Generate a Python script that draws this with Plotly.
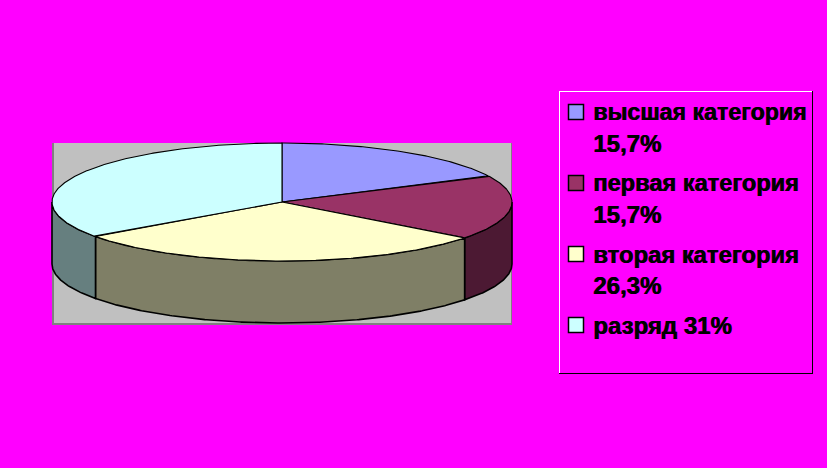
import numpy as np
import plotly.graph_objects as go

categories = ["высшая категория", "первая категория", "вторая категория", "разряд"]
values = [15.7, 15.7, 26.3, 31.0]
value_labels = ["15,7%", "15,7%", "26,3%", "31%"]
top_colors = ["#9999FF", "#993366", "#FFFFCC", "#CCFFFF"]
side_colors = ["#4C4C7F", "#4C1933", "#7F7F66", "#667F7F"]
category_font_sizes = [23.2, 23.6, 23.8, 24]

W, H = 827, 468
CX, CY, RX, RY, DEPTH = 282, 202, 230, 59, 62


def pt(deg, drop=0.0):
    a = np.radians(deg)
    return CX + RX * np.sin(a), CY - RY * np.cos(a) + drop


def arc(a0, a1, drop=0.0):
    n = max(2, int(abs(a1 - a0) * 2) + 1)
    return pt(np.linspace(a0, a1, n), drop)


fig = go.Figure()

shares = np.array(values) / np.sum(values) * 360.0
edges = np.concatenate([[0.0], np.cumsum(shares)])

# side walls (front half of the disc only)
for i, cat in enumerate(categories):
    a0, a1 = max(edges[i], 90.0), min(edges[i + 1], 270.0)
    if a1 <= a0:
        continue
    xt, yt = arc(a0, a1)
    xb, yb = arc(a1, a0, DEPTH)
    fig.add_trace(go.Scatter(
        x=np.r_[xt, xb, xt[0]], y=np.r_[yt, yb, yt[0]],
        mode="lines", fill="toself", fillcolor=side_colors[i],
        line=dict(color="black", width=1.6), name=cat + " (side)",
        hoverinfo="skip", showlegend=False))

# top faces
for i, cat in enumerate(categories):
    xt, yt = arc(edges[i], edges[i + 1])
    fig.add_trace(go.Scatter(
        x=np.r_[CX, xt, CX], y=np.r_[CY, yt, CY],
        mode="lines", fill="toself", fillcolor=top_colors[i],
        line=dict(color="black", width=1.1), name=cat,
        hoverinfo="name", showlegend=False))

# legend swatches
LEG_X = 576
sw_y = [112, 183, 254, 325]
fig.add_trace(go.Scatter(
    x=[LEG_X] * 4, y=sw_y, mode="markers",
    marker=dict(symbol="square", size=15, color=top_colors,
                line=dict(color="black", width=1.5)),
    hoverinfo="skip", showlegend=False))


def legend_font(size):
    return dict(family="Liberation Sans", size=size, color="black", shadow="0.7px 0 0 black")


TX = 593
annotations = []
for i, cat in enumerate(categories):
    if i < 3:
        lines = [(cat, sw_y[i], category_font_sizes[i]), (value_labels[i], sw_y[i] + 31, 24)]
    else:
        lines = [(cat + " " + value_labels[i], sw_y[i], category_font_sizes[i])]
    for txt, y, size in lines:
        annotations.append(dict(
            x=TX, y=y, xref="x", yref="y", xanchor="left", yanchor="middle",
            text="<b>" + txt + "</b>", showarrow=False, font=legend_font(size),
            align="left", borderpad=0, borderwidth=0))

shapes = [
    dict(type="rect", x0=52, x1=512, y0=143, y1=324, layer="below",
         fillcolor="#C0C0C0", line=dict(width=0)),
    dict(type="line", x0=53, x1=53, y0=143, y1=324, layer="below", line=dict(color="#808080", width=2)),
    dict(type="line", x0=52, x1=512, y0=324, y1=324, layer="below", line=dict(color="#808080", width=2)),
    dict(type="line", x0=511.5, x1=511.5, y0=143, y1=324, layer="below", line=dict(color="#808080", width=1)),
    dict(type="line", x0=559, x1=813, y0=91.5, y1=91.5, line=dict(color="white", width=1)),
    dict(type="line", x0=559.5, x1=559.5, y0=91, y1=374, line=dict(color="white", width=1)),
    dict(type="line", x0=812.5, x1=812.5, y0=91, y1=374, line=dict(color="black", width=1)),
    dict(type="line", x0=559, x1=813, y0=373.5, y1=373.5, line=dict(color="black", width=1)),
]

fig.update_layout(
    width=W, height=H, margin=dict(l=0, r=0, t=0, b=0),
    paper_bgcolor="#FF00FF", plot_bgcolor="#FF00FF",
    xaxis=dict(range=[0, W], visible=False, fixedrange=True),
    yaxis=dict(range=[H, 0], visible=False, fixedrange=True),
    shapes=shapes, annotations=annotations, showlegend=False,
)
fig.write_html(
    "out.html",
    config=dict(displayModeBar=False),
    post_script="document.body.style.margin='0';document.body.style.overflow='hidden';document.body.style.background='#FF00FF';",
)
